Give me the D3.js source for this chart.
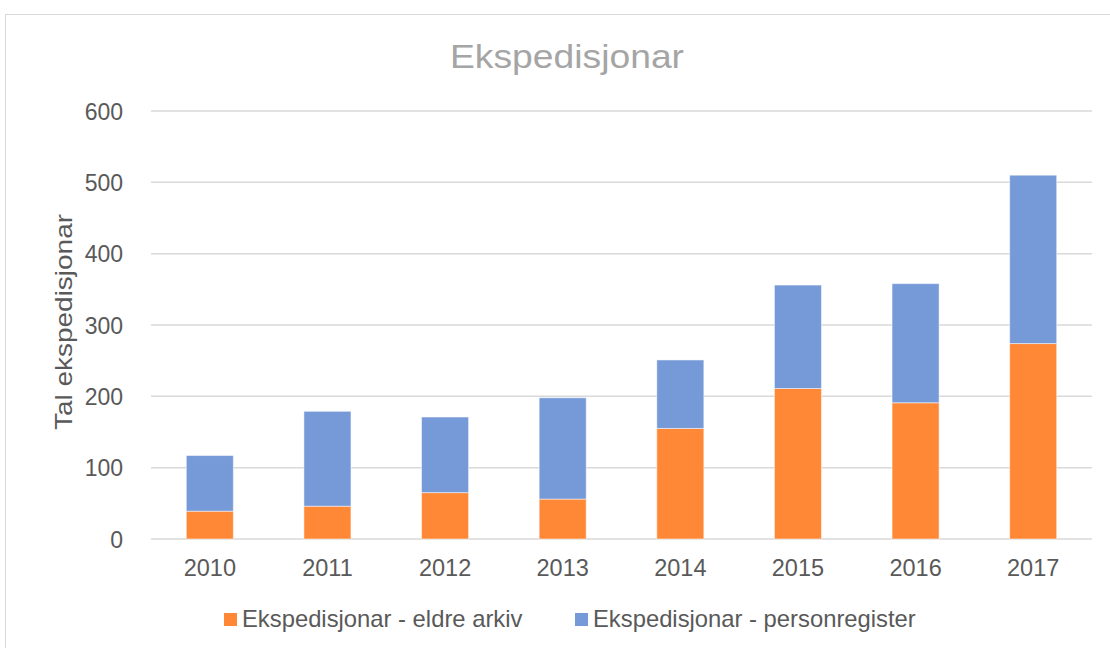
<!DOCTYPE html>
<html><head><meta charset="utf-8">
<script src="https://cdn.jsdelivr.net/npm/d3@7"></script>
<style>body{margin:0;background:#fff;font-family:"Liberation Sans",Arial,sans-serif;}</style>
</head><body><svg id="c" width="1110" height="648"></svg>
<script>
const years = ["2010","2011","2012","2013","2014","2015","2016","2017"];
const eldreArkiv = [39, 46, 65, 56, 155, 211, 191, 274];
const personregister = [78, 133, 106, 142, 96, 145, 167, 236];
const seriesNames = ["Ekspedisjonar - eldre arkiv", "Ekspedisjonar - personregister"];
const seriesColors = ["#FF8837", "#7699D8"];
const yTicks = [0, 100, 200, 300, 400, 500, 600];

const FONT = "Liberation Sans, Arial, sans-serif";
const svg = d3.select("#c");
svg.append("rect").attr("x",5.5).attr("y",14.5).attr("width",1120).attr("height",660)
  .attr("fill","#fff").attr("stroke","#d9d9d9").attr("stroke-width",1);

const x = d3.scaleBand().domain(years).range([151,1092]).paddingInner(0.6).paddingOuter(0.3);
const y = d3.scaleLinear().domain([0,600]).range([539,111]);

svg.append("g").selectAll("line").data(yTicks).join("line")
  .attr("x1",151).attr("x2",1092).attr("y1",d=>y(d)).attr("y2",d=>y(d))
  .attr("stroke","#d9d9d9").attr("stroke-width",1.5);

const data = years.map((yr,i)=>({year:yr, a:eldreArkiv[i], b:personregister[i]}));
const stack = d3.stack().keys(["a","b"])(data);
svg.append("g").selectAll("g").data(stack).join("g")
  .attr("fill",(d,i)=>seriesColors[i])
  .selectAll("rect").data(d=>d).join("rect")
  .attr("x",d=>x(d.data.year)).attr("width",x.bandwidth())
  .attr("y",d=>y(d[1])).attr("height",d=>y(d[0])-y(d[1]))
  .attr("stroke","rgba(255,255,255,0.5)").attr("stroke-width",1);

const yAxis = d3.axisLeft(y).tickValues(yTicks).tickSize(0).tickPadding(0);
const gy = svg.append("g").attr("transform","translate(123,0)").call(yAxis);
gy.select(".domain").remove();
gy.selectAll("text").attr("font-size",23).attr("fill","#595959").attr("font-family",FONT).attr("dy","0.35em");

const xAxis = d3.axisBottom(x).tickSize(0).tickPadding(0);
const gx = svg.append("g").attr("transform","translate(0,576)").call(xAxis);
gx.select(".domain").remove();
gx.selectAll("text").attr("font-size",23.5).attr("fill","#595959").attr("font-family",FONT).attr("dy","0");

svg.append("text").attr("x",567).attr("y",68).attr("text-anchor","middle")
  .attr("font-size",33).attr("fill","#a5a5a5").attr("font-family",FONT)
  .attr("textLength",234).attr("lengthAdjust","spacingAndGlyphs").text("Ekspedisjonar");

svg.append("text").attr("transform","translate(72,322) rotate(-90)").attr("text-anchor","middle")
  .attr("font-size",24).attr("fill","#595959").attr("font-family",FONT)
  .attr("textLength",216).attr("lengthAdjust","spacingAndGlyphs").text("Tal ekspedisjonar");

const legX = [224, 575];
const lg = svg.append("g").selectAll("g").data(seriesNames).join("g")
  .attr("transform",(d,i)=>`translate(${legX[i]},613)`);
lg.append("rect").attr("width",13).attr("height",13).attr("fill",(d,i)=>seriesColors[i]);
lg.append("text").attr("x",18).attr("y",14).attr("font-size",23.8)
  .attr("fill","#595959").attr("font-family",FONT).text(d=>d);
</script></body></html>
